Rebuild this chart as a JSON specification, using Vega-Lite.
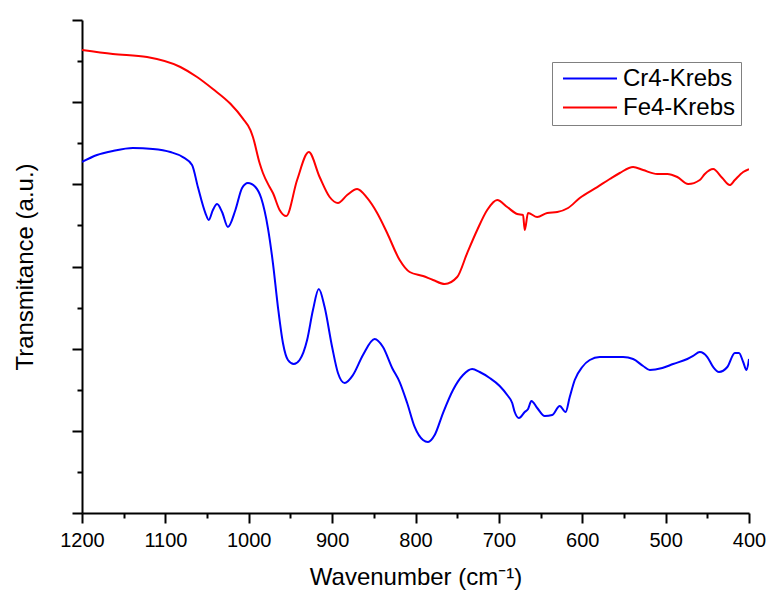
{
  "$schema": "https://vega.github.io/schema/vega-lite/v6.json",
  "width": 667,
  "height": 493,
  "autosize": "none",
  "padding": {"left": 82, "top": 20, "right": 17, "bottom": 79},
  "background": "white",
  "config": {
    "view": {"stroke": null},
    "font": "Liberation Sans"
  },
  "data": {
    "values": [
      {"sample": "Cr4-Krebs", "wn": 1200, "t": 4.272},
      {"sample": "Cr4-Krebs", "wn": 1182, "t": 4.357},
      {"sample": "Cr4-Krebs", "wn": 1163, "t": 4.406},
      {"sample": "Cr4-Krebs", "wn": 1139, "t": 4.442},
      {"sample": "Cr4-Krebs", "wn": 1115, "t": 4.430},
      {"sample": "Cr4-Krebs", "wn": 1094, "t": 4.393},
      {"sample": "Cr4-Krebs", "wn": 1079, "t": 4.332},
      {"sample": "Cr4-Krebs", "wn": 1068, "t": 4.235},
      {"sample": "Cr4-Krebs", "wn": 1061, "t": 3.967},
      {"sample": "Cr4-Krebs", "wn": 1052, "t": 3.651},
      {"sample": "Cr4-Krebs", "wn": 1048, "t": 3.566},
      {"sample": "Cr4-Krebs", "wn": 1043, "t": 3.688},
      {"sample": "Cr4-Krebs", "wn": 1038, "t": 3.760},
      {"sample": "Cr4-Krebs", "wn": 1032, "t": 3.663},
      {"sample": "Cr4-Krebs", "wn": 1025, "t": 3.481},
      {"sample": "Cr4-Krebs", "wn": 1016, "t": 3.688},
      {"sample": "Cr4-Krebs", "wn": 1008, "t": 3.955},
      {"sample": "Cr4-Krebs", "wn": 1001, "t": 4.016},
      {"sample": "Cr4-Krebs", "wn": 992, "t": 3.967},
      {"sample": "Cr4-Krebs", "wn": 985, "t": 3.830},
      {"sample": "Cr4-Krebs", "wn": 977, "t": 3.468},
      {"sample": "Cr4-Krebs", "wn": 971, "t": 3.042},
      {"sample": "Cr4-Krebs", "wn": 965, "t": 2.507},
      {"sample": "Cr4-Krebs", "wn": 959, "t": 2.069},
      {"sample": "Cr4-Krebs", "wn": 953, "t": 1.862},
      {"sample": "Cr4-Krebs", "wn": 946, "t": 1.813},
      {"sample": "Cr4-Krebs", "wn": 939, "t": 1.862},
      {"sample": "Cr4-Krebs", "wn": 930, "t": 2.105},
      {"sample": "Cr4-Krebs", "wn": 923, "t": 2.470},
      {"sample": "Cr4-Krebs", "wn": 916, "t": 2.726},
      {"sample": "Cr4-Krebs", "wn": 909, "t": 2.507},
      {"sample": "Cr4-Krebs", "wn": 900, "t": 2.020},
      {"sample": "Cr4-Krebs", "wn": 893, "t": 1.704},
      {"sample": "Cr4-Krebs", "wn": 885, "t": 1.582},
      {"sample": "Cr4-Krebs", "wn": 875, "t": 1.679},
      {"sample": "Cr4-Krebs", "wn": 863, "t": 1.923},
      {"sample": "Cr4-Krebs", "wn": 849, "t": 2.118},
      {"sample": "Cr4-Krebs", "wn": 839, "t": 2.020},
      {"sample": "Cr4-Krebs", "wn": 828, "t": 1.765},
      {"sample": "Cr4-Krebs", "wn": 819, "t": 1.594},
      {"sample": "Cr4-Krebs", "wn": 810, "t": 1.339},
      {"sample": "Cr4-Krebs", "wn": 801, "t": 1.047},
      {"sample": "Cr4-Krebs", "wn": 791, "t": 0.888},
      {"sample": "Cr4-Krebs", "wn": 785, "t": 0.864},
      {"sample": "Cr4-Krebs", "wn": 777, "t": 0.949},
      {"sample": "Cr4-Krebs", "wn": 767, "t": 1.217},
      {"sample": "Cr4-Krebs", "wn": 755, "t": 1.497},
      {"sample": "Cr4-Krebs", "wn": 743, "t": 1.679},
      {"sample": "Cr4-Krebs", "wn": 732, "t": 1.752},
      {"sample": "Cr4-Krebs", "wn": 723, "t": 1.716},
      {"sample": "Cr4-Krebs", "wn": 711, "t": 1.643},
      {"sample": "Cr4-Krebs", "wn": 699, "t": 1.546},
      {"sample": "Cr4-Krebs", "wn": 690, "t": 1.436},
      {"sample": "Cr4-Krebs", "wn": 684, "t": 1.339},
      {"sample": "Cr4-Krebs", "wn": 681, "t": 1.229},
      {"sample": "Cr4-Krebs", "wn": 676, "t": 1.156},
      {"sample": "Cr4-Krebs", "wn": 669, "t": 1.229},
      {"sample": "Cr4-Krebs", "wn": 665, "t": 1.266},
      {"sample": "Cr4-Krebs", "wn": 661, "t": 1.363},
      {"sample": "Cr4-Krebs", "wn": 654, "t": 1.278},
      {"sample": "Cr4-Krebs", "wn": 645, "t": 1.180},
      {"sample": "Cr4-Krebs", "wn": 636, "t": 1.193},
      {"sample": "Cr4-Krebs", "wn": 627, "t": 1.302},
      {"sample": "Cr4-Krebs", "wn": 620, "t": 1.229},
      {"sample": "Cr4-Krebs", "wn": 615, "t": 1.412},
      {"sample": "Cr4-Krebs", "wn": 609, "t": 1.619},
      {"sample": "Cr4-Krebs", "wn": 600, "t": 1.777},
      {"sample": "Cr4-Krebs", "wn": 591, "t": 1.862},
      {"sample": "Cr4-Krebs", "wn": 579, "t": 1.898},
      {"sample": "Cr4-Krebs", "wn": 563, "t": 1.898},
      {"sample": "Cr4-Krebs", "wn": 551, "t": 1.898},
      {"sample": "Cr4-Krebs", "wn": 539, "t": 1.874},
      {"sample": "Cr4-Krebs", "wn": 527, "t": 1.789},
      {"sample": "Cr4-Krebs", "wn": 519, "t": 1.740},
      {"sample": "Cr4-Krebs", "wn": 504, "t": 1.765},
      {"sample": "Cr4-Krebs", "wn": 491, "t": 1.813},
      {"sample": "Cr4-Krebs", "wn": 474, "t": 1.874},
      {"sample": "Cr4-Krebs", "wn": 467, "t": 1.911},
      {"sample": "Cr4-Krebs", "wn": 459, "t": 1.959},
      {"sample": "Cr4-Krebs", "wn": 450, "t": 1.898},
      {"sample": "Cr4-Krebs", "wn": 443, "t": 1.777},
      {"sample": "Cr4-Krebs", "wn": 436, "t": 1.716},
      {"sample": "Cr4-Krebs", "wn": 426, "t": 1.777},
      {"sample": "Cr4-Krebs", "wn": 417, "t": 1.947},
      {"sample": "Cr4-Krebs", "wn": 412, "t": 1.947},
      {"sample": "Cr4-Krebs", "wn": 407, "t": 1.838},
      {"sample": "Cr4-Krebs", "wn": 403, "t": 1.740},
      {"sample": "Cr4-Krebs", "wn": 400, "t": 1.874},

      {"sample": "Fe4-Krebs", "wn": 1200, "t": 5.635},
      {"sample": "Fe4-Krebs", "wn": 1163, "t": 5.586},
      {"sample": "Fe4-Krebs", "wn": 1122, "t": 5.549},
      {"sample": "Fe4-Krebs", "wn": 1082, "t": 5.428},
      {"sample": "Fe4-Krebs", "wn": 1062, "t": 5.306},
      {"sample": "Fe4-Krebs", "wn": 1043, "t": 5.160},
      {"sample": "Fe4-Krebs", "wn": 1022, "t": 4.980},
      {"sample": "Fe4-Krebs", "wn": 1007, "t": 4.800},
      {"sample": "Fe4-Krebs", "wn": 998, "t": 4.661},
      {"sample": "Fe4-Krebs", "wn": 995, "t": 4.576},
      {"sample": "Fe4-Krebs", "wn": 987, "t": 4.259},
      {"sample": "Fe4-Krebs", "wn": 983, "t": 4.138},
      {"sample": "Fe4-Krebs", "wn": 975, "t": 3.967},
      {"sample": "Fe4-Krebs", "wn": 971, "t": 3.894},
      {"sample": "Fe4-Krebs", "wn": 963, "t": 3.688},
      {"sample": "Fe4-Krebs", "wn": 955, "t": 3.614},
      {"sample": "Fe4-Krebs", "wn": 942, "t": 4.053},
      {"sample": "Fe4-Krebs", "wn": 928, "t": 4.393},
      {"sample": "Fe4-Krebs", "wn": 915, "t": 4.089},
      {"sample": "Fe4-Krebs", "wn": 903, "t": 3.846},
      {"sample": "Fe4-Krebs", "wn": 893, "t": 3.773},
      {"sample": "Fe4-Krebs", "wn": 882, "t": 3.870},
      {"sample": "Fe4-Krebs", "wn": 870, "t": 3.943},
      {"sample": "Fe4-Krebs", "wn": 858, "t": 3.834},
      {"sample": "Fe4-Krebs", "wn": 846, "t": 3.651},
      {"sample": "Fe4-Krebs", "wn": 834, "t": 3.408},
      {"sample": "Fe4-Krebs", "wn": 819, "t": 3.079},
      {"sample": "Fe4-Krebs", "wn": 807, "t": 2.933},
      {"sample": "Fe4-Krebs", "wn": 791, "t": 2.884},
      {"sample": "Fe4-Krebs", "wn": 779, "t": 2.836},
      {"sample": "Fe4-Krebs", "wn": 765, "t": 2.787},
      {"sample": "Fe4-Krebs", "wn": 750, "t": 2.872},
      {"sample": "Fe4-Krebs", "wn": 738, "t": 3.164},
      {"sample": "Fe4-Krebs", "wn": 726, "t": 3.444},
      {"sample": "Fe4-Krebs", "wn": 714, "t": 3.688},
      {"sample": "Fe4-Krebs", "wn": 702, "t": 3.809},
      {"sample": "Fe4-Krebs", "wn": 690, "t": 3.724},
      {"sample": "Fe4-Krebs", "wn": 678, "t": 3.639},
      {"sample": "Fe4-Krebs", "wn": 671, "t": 3.627},
      {"sample": "Fe4-Krebs", "wn": 669, "t": 3.444},
      {"sample": "Fe4-Krebs", "wn": 665, "t": 3.651},
      {"sample": "Fe4-Krebs", "wn": 654, "t": 3.602},
      {"sample": "Fe4-Krebs", "wn": 642, "t": 3.651},
      {"sample": "Fe4-Krebs", "wn": 630, "t": 3.663},
      {"sample": "Fe4-Krebs", "wn": 617, "t": 3.712},
      {"sample": "Fe4-Krebs", "wn": 603, "t": 3.834},
      {"sample": "Fe4-Krebs", "wn": 582, "t": 3.967},
      {"sample": "Fe4-Krebs", "wn": 567, "t": 4.065},
      {"sample": "Fe4-Krebs", "wn": 555, "t": 4.138},
      {"sample": "Fe4-Krebs", "wn": 539, "t": 4.211},
      {"sample": "Fe4-Krebs", "wn": 527, "t": 4.174},
      {"sample": "Fe4-Krebs", "wn": 510, "t": 4.126},
      {"sample": "Fe4-Krebs", "wn": 498, "t": 4.126},
      {"sample": "Fe4-Krebs", "wn": 486, "t": 4.089},
      {"sample": "Fe4-Krebs", "wn": 473, "t": 4.004},
      {"sample": "Fe4-Krebs", "wn": 459, "t": 4.053},
      {"sample": "Fe4-Krebs", "wn": 453, "t": 4.126},
      {"sample": "Fe4-Krebs", "wn": 443, "t": 4.186},
      {"sample": "Fe4-Krebs", "wn": 432, "t": 4.077},
      {"sample": "Fe4-Krebs", "wn": 423, "t": 3.992},
      {"sample": "Fe4-Krebs", "wn": 417, "t": 4.053},
      {"sample": "Fe4-Krebs", "wn": 407, "t": 4.150},
      {"sample": "Fe4-Krebs", "wn": 400, "t": 4.186}
    ]
  },
  "mark": {"type": "line", "strokeWidth": 2, "interpolate": "monotone", "clip": true},
  "encoding": {
    "x": {
      "field": "wn",
      "type": "quantitative",
      "scale": {"domain": [400, 1200], "reverse": true, "nice": false, "zero": false},
      "axis": {
        "title": "Wavenumber (cm⁻¹)",
        "values": [400, 450, 500, 550, 600, 650, 700, 750, 800, 850, 900, 950, 1000, 1050, 1100, 1150, 1200],
        "labelExpr": "datum.value % 100 === 0 ? datum.label : ''",
        "format": "d",
        "grid": false,
        "domainColor": "black",
        "domainWidth": 2,
        "tickColor": "black",
        "tickWidth": 2,
        "tickSize": {"condition": {"test": "datum.value % 100 === 0", "value": 10}, "value": 5},
        "labelFont": "Liberation Sans",
        "labelFontSize": 20,
        "labelColor": "black",
        "labelPadding": 7,
        "labelFlush": false,
        "labelOverlap": false,
        "titleFont": "Liberation Sans",
        "titleFontSize": 24,
        "titleFontWeight": "normal",
        "titleColor": "black",
        "titlePadding": 15
      }
    },
    "y": {
      "field": "t",
      "type": "quantitative",
      "scale": {"domain": [0, 6], "nice": false, "zero": false},
      "axis": {
        "title": "Transmitance (a.u.)",
        "values": [0, 0.5, 1, 1.5, 2, 2.5, 3, 3.5, 4, 4.5, 5, 5.5, 6],
        "labels": false,
        "grid": false,
        "domainColor": "black",
        "domainWidth": 2,
        "tickColor": "black",
        "tickWidth": 2,
        "tickSize": {"condition": {"test": "datum.value % 1 === 0", "value": 10}, "value": 5},
        "titleFont": "Liberation Sans",
        "titleFontSize": 24,
        "titleFontWeight": "normal",
        "titleColor": "black",
        "titlePadding": 34
      }
    },
    "color": {
      "field": "sample",
      "type": "nominal",
      "scale": {"domain": ["Cr4-Krebs", "Fe4-Krebs"], "range": ["#0000ff", "#ff0000"]},
      "legend": {
        "title": null,
        "orient": "none",
        "legendX": 470,
        "legendY": 42,
        "padding": 5,
        "strokeColor": "#808080",
        "fillColor": "white",
        "cornerRadius": 0,
        "symbolType": "stroke",
        "symbolSize": 2916,
        "symbolStrokeWidth": 2,
        "symbolOffset": 5,
        "clipHeight": 23,
        "rowPadding": 4,
        "labelFont": "Liberation Sans",
        "labelFontSize": 24,
        "labelColor": "black",
        "labelOffset": 5,
        "labelLimit": 300
      }
    }
  }
}
